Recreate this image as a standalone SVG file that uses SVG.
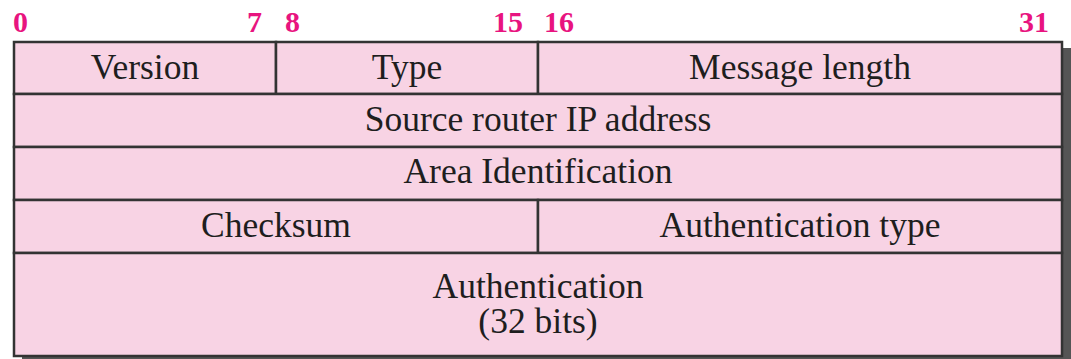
<svg xmlns="http://www.w3.org/2000/svg" width="1071" height="359" viewBox="0 0 1071 359">
<style>
.cell{fill:#F8D3E4;stroke:#333;stroke-width:2.5}
.lbl{font-family:"Liberation Serif","Times New Roman",serif;font-size:35.5px;fill:#1e1e1e;text-anchor:middle}
.num{font-family:"Liberation Serif","Times New Roman",serif;font-size:30px;font-weight:bold;fill:#E8147F}
</style>
<rect x="22" y="48" width="1049" height="320" fill="#555"/>
<rect x="0" y="0" width="1071" height="42" fill="#fff"/>
<g id="bits">
<text class="num" x="13" y="32">0</text>
<text class="num" x="262" y="32" text-anchor="end">7</text>
<text class="num" x="285" y="32">8</text>
<text class="num" x="523" y="32" text-anchor="end">15</text>
<text class="num" x="544" y="32">16</text>
<text class="num" x="1049" y="32" text-anchor="end">31</text>
</g>
<g id="version"><rect class="cell" x="14" y="42" width="262" height="52"/><text class="lbl" x="145" y="79">Version</text></g>
<g id="type"><rect class="cell" x="276" y="42" width="262" height="52"/><text class="lbl" x="407" y="79">Type</text></g>
<g id="msglen"><rect class="cell" x="538" y="42" width="524" height="52"/><text class="lbl" x="800" y="79">Message length</text></g>
<g id="srcip"><rect class="cell" x="14" y="94" width="1048" height="53"/><text class="lbl" x="538" y="131">Source router IP address</text></g>
<g id="area"><rect class="cell" x="14" y="147" width="1048" height="53"/><text class="lbl" x="538" y="183">Area Identification</text></g>
<g id="checksum"><rect class="cell" x="14" y="200" width="524" height="53"/><text class="lbl" x="276" y="237">Checksum</text></g>
<g id="authtype"><rect class="cell" x="538" y="200" width="524" height="53"/><text class="lbl" x="800" y="237">Authentication type</text></g>
<g id="auth"><rect class="cell" x="14" y="253" width="1048" height="103"/><text class="lbl" x="538" y="298">Authentication</text><text class="lbl" x="538" y="333">(32 bits)</text></g>
<g id="connectors"/>
</svg>
